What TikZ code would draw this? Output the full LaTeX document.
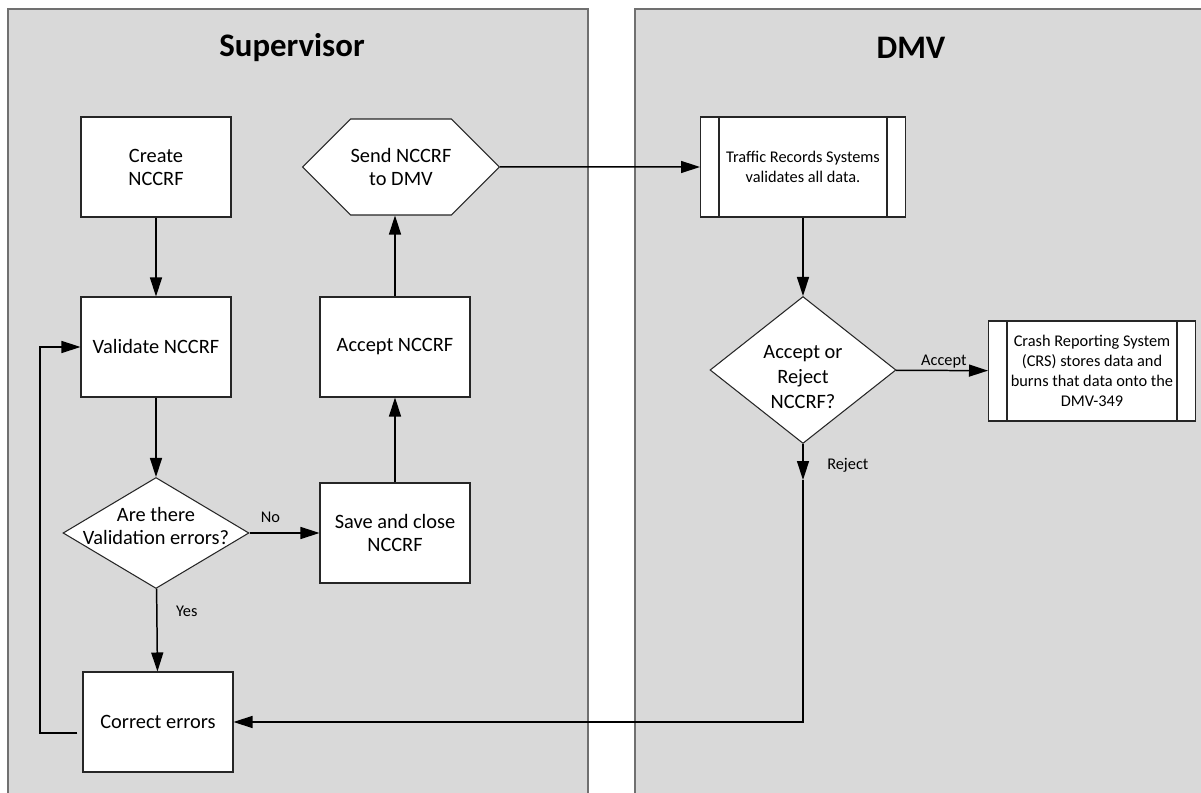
\documentclass[tikz,border=0pt]{standalone}
\usepackage{fontspec}
\setmainfont{Carlito}
\usetikzlibrary{
    arrows.meta,
    shapes.geometric,
    shapes.symbols
}
\definecolor{lanegray}{HTML}{D9D9D9}
\definecolor{laneborder}{HTML}{707070}

\begin{document}
\begin{tikzpicture}[x=0.02cm,y=-0.02cm,>={Triangle[length=0.38cm,width=0.24cm]},line width=0.85pt]
    \tikzstyle{lane}=[fill=lanegray, draw=laneborder, line width=1.1pt]
    \tikzstyle{title}=[font=\fontsize{18.7}{22}\selectfont\bfseries]
    \tikzstyle{box}=[rectangle, draw=black!85, fill=white, line width=0.6pt, minimum width=3cm, minimum height=2cm, align=center, font=\fontsize{11.6}{13.1}\selectfont]
    \tikzstyle{decision}=[diamond, draw=black!85, fill=white, line width=0.6pt, inner sep=0pt, minimum width=3.72cm]
    \tikzstyle{prep}=[signal, signal to=west and east, signal pointer angle=90, draw=black!85, fill=white, line width=0.6pt, inner sep=0pt, minimum width=3.88cm, minimum height=1.92cm, align=center, font=\fontsize{11.6}{13.1}\selectfont]
    \tikzstyle{predef}=[box, minimum width=4.1cm, font=\fontsize{9.3}{11.4}\selectfont]
    \tikzstyle{small}=[font=\fontsize{9.3}{11}\selectfont, inner sep=2pt]
    \clip (0,0) rectangle (1201,793);
    % lanes
    \draw [lane] (8,9) rectangle (588,840);
    \draw [lane] (635,9) rectangle (1240,840);
    \node [title] (suptitle) at (292,48) {Supervisor};
    \node [title] (dmvtitle) at (911,48) {DMV};
    % supervisor steps
    \node [box] (create) at (156,167) {Create\\ NCCRF};
    \node [box] (validate) at (156,347) {Validate NCCRF};
    \node [decision, minimum height=2.22cm, label={[align=center, font=\fontsize{11.6}{13.1}\selectfont, yshift=0.14cm]center:Are there\\ Validation errors?}] (errors) at (156,533) {};
    \node [box] (correct) at (158,722) {Correct errors};
    \node [box] (save) at (395,533) {Save and close\\ NCCRF};
    \node [box] (accept) at (395,347) {Accept NCCRF};
    \node [prep] (send) at (401,167) {Send NCCRF\\ to DMV};
    % dmv steps
    \node [predef] (trs) at (803,167) {Traffic Records Systems\\ validates all data.};
    \node [decision, minimum height=2.94cm, label={[align=center, font=\fontsize{11.6}{14.2}\selectfont, yshift=-0.14cm]center:Accept or\\ Reject\\ NCCRF?}] (decide) at (803,370) {};
    \node [predef, minimum width=4.14cm] (crs) at (1092,371) {Crash Reporting System\\ (CRS) stores data and\\ burns that data onto the\\ DMV-349};
    \foreach \n in {trs,crs}
        \draw [line width=0.6pt, draw=black!85] ([xshift=0.38cm]\n.north west) -- ([xshift=0.38cm]\n.south west)
            ([xshift=-0.38cm]\n.north east) -- ([xshift=-0.38cm]\n.south east);
    \coordinate (loop) at (40,347);
    \coordinate (rj) at (803,480);
    % connectors
    \draw [->] (create) -- (validate);
    \draw [->] (validate) -- (errors);
    \draw [->] (errors) -- node [small, right, pos=0.27, xshift=0.3cm] {Yes} (correct);
    \draw [->] (errors) -- node [small, above, pos=0.3, yshift=0.12cm] {No} (save);
    \draw [->] (save) -- (accept);
    \draw [->] (accept) -- (accept |- send.south);
    \draw [->] (send) -- (trs);
    \draw [->] (trs) -- (decide);
    \draw [->] (decide) -- node [small, above, pos=0.52, inner sep=1pt] {Accept} (crs);
    \draw [->] (decide) -- node [small, right, pos=0.58, xshift=0.4cm] {Reject} (rj);
    \draw [->] (rj) |- (correct);
    \draw [->] ([yshift=-0.22cm,xshift=-0.1cm]correct.west) -| (loop) -- (validate);
\end{tikzpicture}
\end{document}
